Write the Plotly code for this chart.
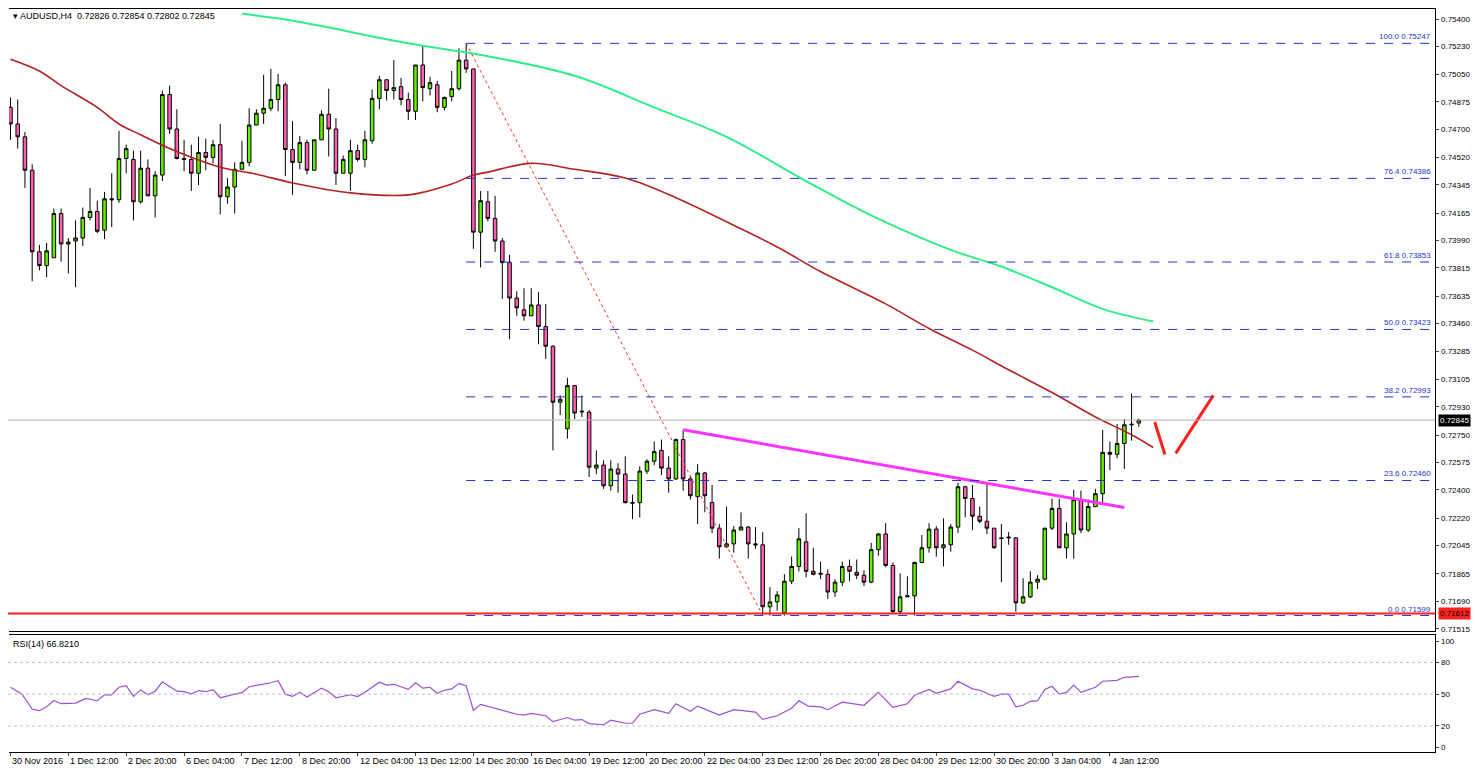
import plotly.graph_objects as go

# AUDUSD H4 candles (oldest first)
opens = [0.74839, 0.74733, 0.74651, 0.74438, 0.73918, 0.73830, 0.73880, 0.74162, 0.73968, 0.73987,
         0.74006, 0.74137, 0.74175, 0.74056, 0.74256, 0.74250, 0.74513, 0.74507, 0.74237, 0.74451,
         0.74275, 0.74407, 0.74921, 0.74701, 0.74513, 0.74507, 0.74419, 0.74551, 0.74520, 0.74601,
         0.74269, 0.74331, 0.74444, 0.74488, 0.74726, 0.74802, 0.74833, 0.74889, 0.74983, 0.74570,
         0.74488, 0.74614, 0.74438, 0.74632, 0.74795, 0.74701, 0.74419, 0.74419, 0.74563, 0.74507,
         0.74626, 0.74896, 0.75015, 0.74946, 0.74971, 0.74889, 0.74814, 0.75109, 0.74958, 0.74983,
         0.74839, 0.74908, 0.74958, 0.75140, 0.75084, 0.74043, 0.74237, 0.74131, 0.73987, 0.73849,
         0.73623, 0.73548, 0.73510, 0.73579, 0.73441, 0.73316, 0.72959, 0.72790, 0.73065, 0.72902,
         0.72896, 0.72539, 0.72558, 0.72426, 0.72533, 0.72501, 0.72319, 0.72319, 0.72520, 0.72583,
         0.72652, 0.72539, 0.72470, 0.72721, 0.72470, 0.72357, 0.72508, 0.72319, 0.72156, 0.72037,
         0.72056, 0.72144, 0.72163, 0.72056, 0.72050, 0.71655, 0.71686, 0.71617, 0.71818, 0.71912,
         0.72069, 0.71881, 0.71862, 0.71862, 0.71749, 0.71812, 0.71912, 0.71874, 0.71856, 0.71812,
         0.72019, 0.72119, 0.71918, 0.71624, 0.71718, 0.71724, 0.71937, 0.72031, 0.72150, 0.72031,
         0.72050, 0.72163, 0.72420, 0.72345, 0.72232, 0.72200, 0.72156, 0.72094, 0.72094, 0.72094,
         0.71680, 0.71718, 0.71812, 0.71831, 0.72156, 0.72282, 0.72031, 0.72119, 0.72338, 0.72144,
         0.72294, 0.72376, 0.72639, 0.72627, 0.72696, 0.72815, 0.72826]
closes = [0.74733, 0.74651, 0.74438, 0.73918, 0.73830, 0.73924, 0.74162, 0.73968, 0.73980, 0.74006,
          0.74137, 0.74175, 0.74049, 0.74256, 0.74250, 0.74513, 0.74576, 0.74237, 0.74451, 0.74275,
          0.74407, 0.74921, 0.74701, 0.74513, 0.74507, 0.74419, 0.74551, 0.74520, 0.74601, 0.74269,
          0.74331, 0.74444, 0.74488, 0.74726, 0.74802, 0.74833, 0.74889, 0.74983, 0.74570, 0.74488,
          0.74614, 0.74438, 0.74632, 0.74795, 0.74701, 0.74419, 0.74507, 0.74563, 0.74507, 0.74632,
          0.74896, 0.75015, 0.74946, 0.74965, 0.74889, 0.74814, 0.75109, 0.74965, 0.74996, 0.74839,
          0.74902, 0.74958, 0.75140, 0.75084, 0.74043, 0.74244, 0.74131, 0.73987, 0.73849, 0.73623,
          0.73561, 0.73510, 0.73579, 0.73441, 0.73316, 0.72959, 0.72978, 0.73065, 0.72890, 0.72898,
          0.72545, 0.72558, 0.72426, 0.72533, 0.72501, 0.72319, 0.72316, 0.72520, 0.72583, 0.72645,
          0.72539, 0.72470, 0.72721, 0.72470, 0.72363, 0.72508, 0.72363, 0.72156, 0.72037, 0.72056,
          0.72144, 0.72163, 0.72056, 0.72050, 0.71655, 0.71686, 0.71730, 0.71818, 0.71912, 0.72088,
          0.71881, 0.71862, 0.71868, 0.71749, 0.71812, 0.71912, 0.71881, 0.71856, 0.71812, 0.72019,
          0.72119, 0.71918, 0.71624, 0.71718, 0.71724, 0.71937, 0.72031, 0.72150, 0.72031, 0.72050,
          0.72163, 0.72420, 0.72345, 0.72232, 0.72200, 0.72156, 0.72031, 0.72090, 0.72098, 0.71680,
          0.71718, 0.71812, 0.71831, 0.72156, 0.72282, 0.72031, 0.72119, 0.72338, 0.72144, 0.72294,
          0.72376, 0.72639, 0.72627, 0.72696, 0.72815, 0.72818, 0.72845]
highs = [0.74902, 0.74889, 0.74682, 0.74476, 0.73962, 0.73974, 0.74194, 0.74194, 0.74006, 0.74118,
         0.74200, 0.74325, 0.74244, 0.74300, 0.74419, 0.74689, 0.74601, 0.74563, 0.74563, 0.74507,
         0.74432, 0.74946, 0.74977, 0.74827, 0.74632, 0.74601, 0.74651, 0.74639, 0.74632, 0.74733,
         0.74388, 0.74488, 0.74626, 0.74833, 0.74827, 0.75046, 0.75084, 0.75052, 0.74996, 0.74751,
         0.74657, 0.74632, 0.74632, 0.74820, 0.74958, 0.74770, 0.74532, 0.74632, 0.74601, 0.74689,
         0.74952, 0.75040, 0.75015, 0.75140, 0.75027, 0.74933, 0.75109, 0.75234, 0.75034, 0.75008,
         0.74908, 0.75071, 0.75215, 0.75247, 0.75084, 0.74306, 0.74306, 0.74275, 0.74006, 0.73899,
         0.73667, 0.73686, 0.73686, 0.73661, 0.73586, 0.73322, 0.73003, 0.73115, 0.73065, 0.73003,
         0.72909, 0.72652, 0.72589, 0.72589, 0.72570, 0.72614, 0.72370, 0.72551, 0.72595, 0.72708,
         0.72721, 0.72614, 0.72727, 0.72783, 0.72489, 0.72564, 0.72514, 0.72432, 0.72182, 0.72294,
         0.72169, 0.72257, 0.72169, 0.72163, 0.72131, 0.71780, 0.71755, 0.71862, 0.71975, 0.72156,
         0.72251, 0.72031, 0.71943, 0.71893, 0.71831, 0.71943, 0.71956, 0.71956, 0.71887, 0.72062,
         0.72125, 0.72188, 0.71937, 0.71868, 0.71849, 0.71943, 0.72113, 0.72188, 0.72169, 0.72219,
         0.72182, 0.72445, 0.72426, 0.72432, 0.72294, 0.72445, 0.72156, 0.72182, 0.72131, 0.72100,
         0.71837, 0.71881, 0.71856, 0.72156, 0.72344, 0.72344, 0.72194, 0.72401, 0.72395, 0.72338,
         0.72407, 0.72783, 0.72708, 0.72821, 0.72852, 0.73015, 0.72854]
lows = [0.74632, 0.74576, 0.74325, 0.73730, 0.73799, 0.73755, 0.73880, 0.73855, 0.73780, 0.73692,
        0.73955, 0.74118, 0.74037, 0.73999, 0.74075, 0.74231, 0.74419, 0.74118, 0.74225, 0.74275,
        0.74137, 0.74369, 0.74670, 0.74507, 0.74432, 0.74306, 0.74344, 0.74438, 0.74482, 0.74156,
        0.74225, 0.74162, 0.74444, 0.74463, 0.74726, 0.74733, 0.74814, 0.74814, 0.74400, 0.74281,
        0.74444, 0.74413, 0.74438, 0.74632, 0.74526, 0.74344, 0.74419, 0.74306, 0.74494, 0.74457,
        0.74607, 0.74827, 0.74883, 0.74889, 0.74852, 0.74758, 0.74758, 0.74877, 0.74914, 0.74808,
        0.74820, 0.74877, 0.74946, 0.75059, 0.73937, 0.73818, 0.74112, 0.73918, 0.73617, 0.73360,
        0.73510, 0.73479, 0.73510, 0.73329, 0.73235, 0.72652, 0.72877, 0.72727, 0.72852, 0.72865,
        0.72482, 0.72501, 0.72407, 0.72395, 0.72382, 0.72313, 0.72213, 0.72225, 0.72501, 0.72558,
        0.72495, 0.72382, 0.72464, 0.72395, 0.72338, 0.72182, 0.72257, 0.72125, 0.71962, 0.72031,
        0.72000, 0.72144, 0.71962, 0.72025, 0.71599, 0.71599, 0.71630, 0.71599, 0.71799, 0.71881,
        0.71843, 0.71856, 0.71831, 0.71705, 0.71718, 0.71787, 0.71818, 0.71831, 0.71787, 0.71805,
        0.71981, 0.71906, 0.71617, 0.71611, 0.71724, 0.71599, 0.71937, 0.72000, 0.71975, 0.71912,
        0.72006, 0.72125, 0.72225, 0.72144, 0.72188, 0.72119, 0.72025, 0.71812, 0.72050, 0.71624,
        0.71674, 0.71711, 0.71768, 0.71824, 0.72144, 0.72031, 0.71962, 0.71962, 0.72125, 0.72131,
        0.72288, 0.72319, 0.72526, 0.72602, 0.72533, 0.72714, 0.72802]
bars = list(range(len(closes)))

# moving averages, read at some bars
ma100_bar = [0, 4, 7, 12, 15, 18, 23, 29, 34, 39, 47, 55, 61, 64, 66, 72, 78, 85, 92, 100,
             106, 112, 121, 127, 133, 138, 144, 150, 155, 158]
ma100_val = [0.75146, 0.75071, 0.74977, 0.74839, 0.74733, 0.74664, 0.74557, 0.74457, 0.74413,
             0.74357, 0.74294, 0.74281, 0.74350, 0.74407, 0.74426, 0.74482, 0.74444, 0.74388,
             0.74263, 0.74087, 0.73949, 0.73792, 0.73586, 0.73429, 0.73291, 0.73166, 0.73021,
             0.72865, 0.72752, 0.72670]
ma200_bar = [32, 39, 55, 66, 78, 89, 99, 110, 119, 130, 137, 144, 151, 158]
ma200_val = [0.75435, 0.75391, 0.75247, 0.75165, 0.75040, 0.74839, 0.74651, 0.74369, 0.74150,
             0.73930, 0.73824, 0.73692, 0.73554, 0.73473]

# RSI(14)
rsi_bar = [0, 1.6, 3, 4, 5, 6, 7, 9, 10.4, 12, 13, 14, 15, 16, 17, 18, 19, 20, 21, 23, 24, 25, 26,
           27, 28, 29, 31, 32, 33, 35, 36, 37, 38, 39, 40, 41, 43, 44, 45, 47, 48, 49, 51, 52, 53,
           55, 56, 57, 58, 59, 60, 61, 62, 63, 64, 65, 68, 70, 71, 72, 74, 75, 77, 78, 79, 80, 82,
           83, 85, 86, 87, 89, 91, 92, 94, 95, 97, 98, 100, 101.6, 103, 104, 106, 108, 109, 110.3,
           112, 113, 115, 118, 120, 122, 124, 125, 127, 128, 130, 131, 133, 134, 136, 137, 138,
           139, 140, 141, 142, 143, 144, 145, 146, 147, 148, 150, 151, 153, 154, 156]
rsi_val = [56.5, 50, 36, 34.4, 38, 44, 41, 41.5, 46, 43.8, 49.4, 49.4, 56.5, 58, 48, 54, 49.4, 52.8,
           61.6, 52.8, 52.3, 50.3, 53.4, 52.3, 54.2, 46.6, 50, 51.4, 57, 59.3, 60.8, 62.7, 50, 48,
           51.7, 47.2, 55.7, 52.3, 46.6, 49.4, 47.7, 51.7, 61.3, 58.5, 59.3, 54.5, 60.8, 55.7, 56.5,
           50.8, 53.7, 55, 60.2, 58, 34.7, 40.4, 34.7, 31, 30.2, 31.9, 29.6, 24, 27.9, 25.4, 26,
           22.2, 21.1, 25.4, 22.5, 22.5, 31, 35.3, 31.9, 41, 33.9, 38.7, 33, 30.2, 35.3, 34.4, 33,
           26.2, 29.6, 36.7, 43.8, 38.7, 38, 35.3, 42.4, 39.5, 51.7, 37.5, 40.9, 48.9, 54.5, 50.8,
           55, 62.2, 55, 53.7, 48, 50, 50, 38, 39.5, 43.2, 43.8, 54.5, 57.4, 50, 51.7, 58.5, 51.7,
           56.5, 62.2, 63, 65.9, 66.82]

# Fibonacci retracement levels
fib_pct = ["100.0", "76.4", "61.8", "50.0", "38.2", "23.6", "0.0"]
fib_val = [0.75247, 0.74386, 0.73853, 0.73423, 0.72993, 0.72460, 0.71599]
fib_start = 63

support = 0.71612
last_price = 0.72845
trend_bar = [93, 154]
trend_val = [0.72783, 0.72288]
swing_bar = [63, 104]
swing_val = [0.75247, 0.71599]
arrow1_bar = [158.2, 159.6]
arrow1_val = [0.72833, 0.72626]
arrow2_bar = [161.1, 166.3]
arrow2_val = [0.72633, 0.73003]

time_labels = ["30 Nov 2016", "1 Dec 12:00", "2 Dec 20:00", "6 Dec 04:00", "7 Dec 12:00",
               "8 Dec 20:00", "12 Dec 04:00", "13 Dec 12:00", "14 Dec 20:00", "16 Dec 04:00",
               "19 Dec 12:00", "20 Dec 20:00", "22 Dec 04:00", "23 Dec 12:00", "26 Dec 20:00",
               "28 Dec 04:00", "29 Dec 12:00", "30 Dec 20:00", "3 Jan 04:00", "4 Jan 12:00"]
time_bars = [8 * i for i in range(len(time_labels))]

price_ticks = [0.75400, 0.75230, 0.75050, 0.74875, 0.74700, 0.74520, 0.74345, 0.74165, 0.73990,
               0.73815, 0.73635, 0.73460, 0.73285, 0.73105, 0.72930, 0.72750, 0.72575, 0.72400,
               0.72220, 0.72045, 0.71865, 0.71690, 0.71515]

FONT = "Liberation Sans"
xr = [-0.2, 197.0]
XR = 0.971  # right edge of the plotting area in paper units

fig = go.Figure()

fig.add_trace(go.Candlestick(
    x=bars, open=opens, high=highs, low=lows, close=closes,
    increasing=dict(line=dict(color="black", width=1), fillcolor="#66ee00"),
    decreasing=dict(line=dict(color="black", width=1), fillcolor="#ff5fb0"),
    whiskerwidth=0, showlegend=False, hoverinfo="skip"))

fig.add_trace(go.Scatter(x=ma100_bar, y=ma100_val, mode="lines", line=dict(color="#b22222", width=1.6, shape="spline"), showlegend=False))
fig.add_trace(go.Scatter(x=ma200_bar, y=ma200_val, mode="lines", line=dict(color="#33ee88", width=2, shape="spline"), showlegend=False))
fig.add_trace(go.Scatter(x=trend_bar, y=trend_val, mode="lines", line=dict(color="#ff33ff", width=3), showlegend=False))
fig.add_trace(go.Scatter(x=swing_bar, y=swing_val, mode="lines", line=dict(color="#ff3030", width=1, dash="dot"), showlegend=False))
fig.add_trace(go.Scatter(x=arrow1_bar, y=arrow1_val, mode="lines", line=dict(color="#ff2020", width=3), showlegend=False))
fig.add_trace(go.Scatter(x=arrow2_bar, y=arrow2_val, mode="lines", line=dict(color="#ff2020", width=3), showlegend=False))

# RSI panel
fig.add_trace(go.Scatter(x=rsi_bar, y=rsi_val, mode="lines", line=dict(color="#9b4fd6", width=1.2),
                         xaxis="x2", yaxis="y2", showlegend=False))

shapes = []
annotations = []
for pct, v in zip(fib_pct, fib_val):
    shapes.append(dict(type="line", xref="x", yref="y", x0=fib_start, x1=xr[1], y0=v, y1=v,
                       line=dict(color="#2233cc", width=1, dash="dash")))
    annotations.append(dict(x=xr[1] - 0.3, y=v, xref="x", yref="y", text=pct + " " + f"{v:.5f}",
                            showarrow=False, xanchor="right", yanchor="bottom",
                            font=dict(family=FONT, size=8, color="#2233cc")))
shapes.append(dict(type="line", xref="paper", yref="y", x0=0, x1=XR, y0=last_price, y1=last_price,
                   line=dict(color="#b0b0b0", width=1)))
shapes.append(dict(type="line", xref="paper", yref="y", x0=0, x1=XR, y0=support, y1=support,
                   line=dict(color="#ff2020", width=2)))
for lvl in [20, 50, 80]:
    shapes.append(dict(type="line", xref="paper", yref="y2", x0=0, x1=XR, y0=lvl, y1=lvl,
                       line=dict(color="#c0c0c0", width=1, dash="dot")))

# price boxes on the axis
annotations.append(dict(x=XR + 0.002, y=last_price, xref="paper", yref="y", text=f"{last_price:.5f}",
                        showarrow=False, xanchor="left", bgcolor="black",
                        font=dict(family=FONT, size=8, color="white")))
annotations.append(dict(x=XR + 0.002, y=support, xref="paper", yref="y", text=f"{support:.5f}",
                        showarrow=False, xanchor="left", bgcolor="#ff2020",
                        font=dict(family=FONT, size=8, color="black")))
annotations.append(dict(x=0.002, y=1.0, xref="paper", yref="paper",
                        text="▾ AUDUSD,H4  0.72826 0.72854 0.72802 0.72845",
                        showarrow=False, xanchor="left", yanchor="top",
                        font=dict(family=FONT, size=9, color="black")))
annotations.append(dict(x=0.002, y=0.173, xref="paper", yref="paper", text="RSI(14) 66.8210",
                        showarrow=False, xanchor="left", yanchor="top",
                        font=dict(family=FONT, size=9, color="black")))
for b, t in zip(time_bars, time_labels):
    annotations.append(dict(x=b, y=0.019, xref="x2", yref="paper", text=t, showarrow=False,
                            xanchor="left", yanchor="top", font=dict(family=FONT, size=9, color="black")))

fig.update_layout(
    width=1470, height=762,
    margin=dict(l=0, r=0, t=0, b=0),
    paper_bgcolor="white", plot_bgcolor="white",
    font=dict(family=FONT, size=8, color="black"),
    shapes=shapes, annotations=annotations,
    xaxis=dict(domain=[0.0007, XR], range=xr, showgrid=False, showticklabels=False,
               rangeslider=dict(visible=False), showline=True, linecolor="black", mirror=True,
               anchor="y", zeroline=False),
    yaxis=dict(domain=[0.18, 1], range=[0.71498, 0.75466], side="right", tickvals=price_ticks,
               ticktext=[f"{t:.5f}" for t in price_ticks], showgrid=False, showline=True,
               linecolor="black", ticks="outside", ticklen=3, zeroline=False, anchor="x"),
    xaxis2=dict(domain=[0.0007, XR], range=xr, showgrid=False, showticklabels=False,
                tickvals=time_bars, ticks="outside", ticklen=3, showline=True, linecolor="black",
                mirror=True, anchor="y2", zeroline=False),
    yaxis2=dict(domain=[0.021, 0.175], range=[-4.7, 105.7], side="right",
                tickvals=[0, 20, 50, 80, 100], showgrid=False, showline=True, linecolor="black",
                ticks="outside", ticklen=3, zeroline=False, anchor="x2"),
)

fig.write_html("out.html")
